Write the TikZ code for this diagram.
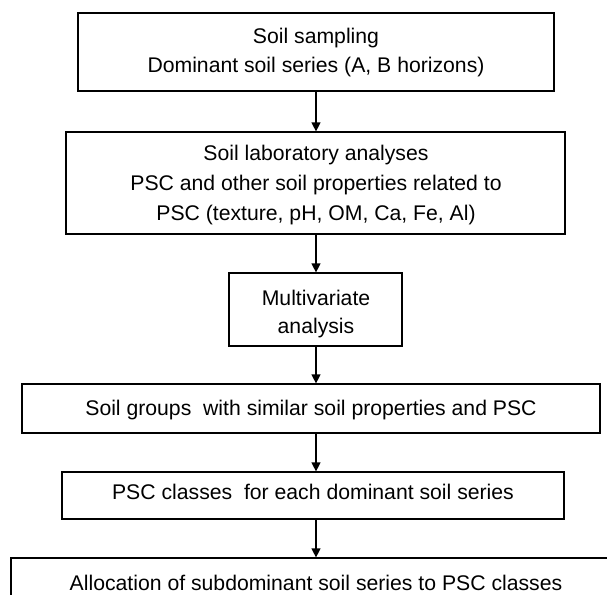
\documentclass[tikz,border=0pt]{standalone}
\usepackage{fontspec}
\setmainfont{Liberation Sans}
\usetikzlibrary{arrows.meta}
\begin{document}
\begin{tikzpicture}[x=1pt,y=1pt,
  flowbox/.style={draw=black, line width=1.2pt, fill=white, inner sep=0pt},
  flowtext/.style={align=center, inner sep=0pt, font=\fontsize{21.2}{29}\selectfont},
  flowarrow/.style={line width=1.2pt, -{Triangle[length=9pt,width=9pt]}}]
\useasboundingbox (0,0) rectangle (607,-594);
\clip (0,0) rectangle (607,-594);
% boxes
\node[flowbox, minimum width=476pt, minimum height=78pt] (b1) at (316,-52) {};
\node[flowbox, minimum width=499pt, minimum height=102pt] (b2) at (315.5,-183) {};
\node[flowbox, minimum width=173pt, minimum height=73pt] (b3) at (315.5,-309.5) {};
\node[flowbox, minimum width=578pt, minimum height=49pt] (b4) at (311,-408.5) {};
\node[flowbox, minimum width=502pt, minimum height=47pt] (b5) at (313,-495.5) {};
\node[flowbox, minimum width=610pt, minimum height=82pt] (b6) at (316,-599) {};
% texts
\node[flowtext] (b1t) at (316,-53) {Soil sampling\\Dominant soil series (A, B horizons)};
\node[flowtext, font=\fontsize{21.2}{30}\selectfont] (b2t) at (316,-185.5)
  {Soil laboratory analyses\\PSC and other soil properties related to\\PSC (texture, pH, OM, Ca, Fe, Al)};
\node[flowtext, font=\fontsize{21.2}{27.5}\selectfont] (b3t) at (316,-314) {Multivariate\\analysis};
\node[flowtext] (b4t) at (311,-410) {Soil groups\ \ with similar soil properties and PSC};
\node[flowtext] (b5t) at (313,-491.5) {PSC classes\ \ for each dominant soil series};
\node[flowtext] (b6t) at (316,-582.5) {Allocation of subdominant soil series to PSC classes};
% connectors
\coordinate (ax) at (316,0);
\draw[flowarrow] (b1.south -| ax) -- (b2.north -| ax);
\draw[flowarrow] (b2.south -| ax) -- (b3.north -| ax);
\draw[flowarrow] (b3.south -| ax) -- (b4.north -| ax);
\draw[flowarrow] (b4.south -| ax) -- (b5.north -| ax);
\draw[flowarrow] (b5.south -| ax) -- (b6.north -| ax);
\end{tikzpicture}
\end{document}
